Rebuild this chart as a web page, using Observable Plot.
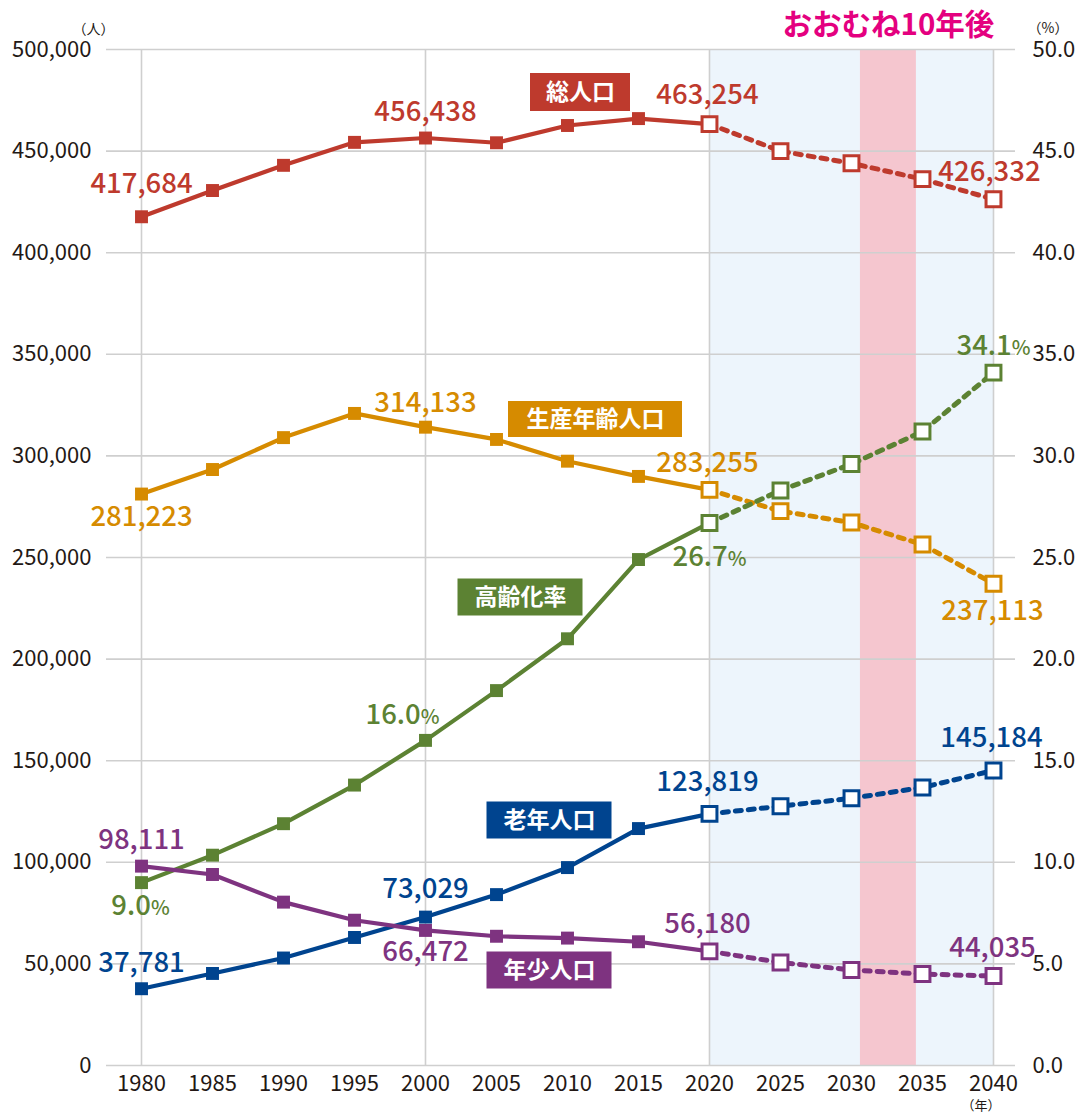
<!DOCTYPE html>
<html>
<head>
<meta charset="utf-8">
<script src="https://cdn.jsdelivr.net/npm/d3@7"></script>
<script src="https://cdn.jsdelivr.net/npm/@observablehq/plot@0.6"></script>
<style>
  html, body { margin: 0; padding: 0; background: #fff; }
  #chart svg { display: block; }
</style>
</head>
<body>
<div id="chart"></div>
<script>
// ---------------- data ----------------
const years = [1980, 1985, 1990, 1995, 2000, 2005, 2010, 2015, 2020, 2025, 2030, 2035, 2040];
const totalPop   = [417684, 430600, 443000, 454300, 456438, 454100, 462600, 466000, 463254, 450000, 444000, 436200, 426332];
const workingPop = [281223, 293300, 309000, 320900, 314133, 308100, 297400, 289900, 283255, 272800, 267200, 256400, 237113];
const agingRate  = [9.0, 10.35, 11.9, 13.8, 16.0, 18.45, 21.0, 24.9, 26.7, 28.3, 29.6, 31.2, 34.1];
const elderlyPop = [37781, 45300, 52900, 63000, 73029, 84100, 97400, 116600, 123819, 127600, 131500, 136800, 145184];
const youngPop   = [98111, 94000, 80400, 71500, 66472, 63600, 62700, 60900, 56180, 50700, 47000, 45000, 44035];

const seriesNames = ["総人口", "生産年齢人口", "高齢化率", "老年人口", "年少人口"];
const seriesColors = ["#BE3A2D", "#D68B00", "#5C8233", "#00448F", "#7E3380"];
const lastActualYear = 2020;
const projectionBand = [2020, 2040];
const tenYearBand = [2030.63, 2034.57];
const bandTitle = "おおむね10年後";
const leftTicks = d3.range(0, 500001, 50000);
const pctScale = 10000; // 50.0% <-> 500,000 on the shared y scale

// labelled values: [series, year, text]
const valueLabels = [
  ["総人口", 1980, "417,684"], ["総人口", 2000, "456,438"], ["総人口", 2020, "463,254"], ["総人口", 2040, "426,332"],
  ["生産年齢人口", 1980, "281,223"], ["生産年齢人口", 2000, "314,133"], ["生産年齢人口", 2020, "283,255"], ["生産年齢人口", 2040, "237,113"],
  ["高齢化率", 1980, "9.0%"], ["高齢化率", 2000, "16.0%"], ["高齢化率", 2020, "26.7%"], ["高齢化率", 2040, "34.1%"],
  ["老年人口", 1980, "37,781"], ["老年人口", 2000, "73,029"], ["老年人口", 2020, "123,819"], ["老年人口", 2040, "145,184"],
  ["年少人口", 1980, "98,111"], ["年少人口", 2000, "66,472"], ["年少人口", 2020, "56,180"], ["年少人口", 2040, "44,035"]
];

// ---------------- layout (pixels / annotation anchors) ----------------
const W = 1084, H = 1117;
const M = {top: 49, right: 69, bottom: 52, left: 106};
const xDomain = [1977.535, 2041.55];
const pxPerYear = (W - M.left - M.right) / (xDomain[1] - xDomain[0]);
const pxPerUnit = (H - M.top - M.bottom) / 500000;
// label offsets in px, in the same order as valueLabels
const labelOffsets = [
  [0, -33], [0, -26], [-2, -29], [-4, -27],
  [0, 23], [0, -24], [-2, -27], [-1, 28],
  [-1, 24], [-23, -25], [0, 34], [0, -26],
  [0, -26], [0, -28], [-2, -32], [-2, -32],
  [0, -26], [0, 22], [-2, -27], [-1, -28]
];
// series name boxes: centre (px) and size (px)
const nameBoxes = [
  ["総人口", 580, 92, 100, 38],
  ["生産年齢人口", 595, 419, 174, 36],
  ["高齢化率", 520, 597, 125, 37],
  ["老年人口", 549, 820, 125, 37],
  ["年少人口", 549, 970, 125, 37]
];
const FONT = "'Noto Sans CJK JP', 'Noto Sans', sans-serif";

// ---------------- build table ----------------
const seriesValues = {
  "総人口": totalPop,
  "生産年齢人口": workingPop,
  "高齢化率": agingRate.map(v => v * pctScale),
  "老年人口": elderlyPop,
  "年少人口": youngPop
};
const rows = [];
for (const s of seriesNames) {
  seriesValues[s].forEach((v, i) => rows.push({series: s, year: years[i], value: v}));
}
const actual = rows.filter(d => d.year <= lastActualYear);
const projected = rows.filter(d => d.year >= lastActualYear);
const actualMarks = rows.filter(d => d.year < lastActualYear);
const projMarks = rows.filter(d => d.year >= lastActualYear);
const colorOf = s => seriesColors[seriesNames.indexOf(s)];
const xInv = px => xDomain[0] + (px - M.left) / pxPerYear;
const yInv = py => (H - M.bottom - py) / pxPerUnit;

const labelMarks = valueLabels.map(([s, yr, txt], i) => {
  const d = rows.find(r => r.series === s && r.year === yr);
  return Plot.text([{...d, txt}], {
    x: "year", y: "value", text: "txt",
    dx: labelOffsets[i][0], dy: labelOffsets[i][1],
    fill: colorOf(s), fontSize: 27.5, fontWeight: 500,
    className: "vlabel"
  });
});

const boxes = nameBoxes.map(([s, cx, cy, w, h]) => ({
  series: s, x1: xInv(cx - w / 2), x2: xInv(cx + w / 2),
  y1: yInv(cy + h / 2), y2: yInv(cy - h / 2), xc: xInv(cx), yc: yInv(cy)
}));

const chart = Plot.plot({
  width: W, height: H,
  marginTop: M.top, marginRight: M.right, marginBottom: M.bottom, marginLeft: M.left,
  style: {fontFamily: FONT, background: "#fff", overflow: "visible"},
  x: {domain: xDomain},
  y: {domain: [0, 500000]},
  color: {domain: seriesNames, range: seriesColors},
  marks: [
    Plot.rectY([{a: projectionBand[0], b: projectionBand[1]}], {x1: "a", x2: "b", y1: 0, y2: 500000, fill: "#EDF5FC"}),
    Plot.rectY([{a: tenYearBand[0], b: tenYearBand[1]}], {x1: "a", x2: "b", y1: 0, y2: 500000, fill: "#F5C6CF"}),
    Plot.ruleY(leftTicks, {stroke: "#CFCFCF", strokeWidth: 1.6}),
    Plot.ruleX([1980, 2000, 2020, 2040], {y1: 0, y2: 500000, stroke: "#CFCFCF", strokeWidth: 1.6}),
    Plot.axisY({anchor: "left", ticks: leftTicks, tickFormat: d3.format(","), tickSize: 0, tickPadding: 15, fontSize: 22, fill: "#231815", label: null}),
    Plot.axisY({anchor: "right", ticks: leftTicks, tickFormat: d => (d / pctScale).toFixed(1), tickSize: 0, tickPadding: 17, fontSize: 22, fill: "#231815", label: null}),
    Plot.axisX({ticks: years, tickFormat: d => String(d), tickSize: 0, tickPadding: 10, fontSize: 22, fill: "#231815", label: null}),
    Plot.line(actual, {x: "year", y: "value", z: "series", stroke: "series", strokeWidth: 4.2}),
    Plot.line(projected, {x: "year", y: "value", z: "series", stroke: "series", strokeWidth: 5, strokeDasharray: "6,7"}),
    Plot.dot(actualMarks, {x: "year", y: "value", symbol: "square", r: 7.3, fill: "series", stroke: "none"}),
    Plot.dot(projMarks, {x: "year", y: "value", symbol: "square", r: 8.4, fill: "#fff", stroke: "series", strokeWidth: 3}),
    ...labelMarks,
    Plot.rect(boxes, {x1: "x1", x2: "x2", y1: "y1", y2: "y2", fill: "series"}),
    Plot.text(boxes, {x: "xc", y: "yc", text: "series", fill: "#fff", fontSize: 23, fontWeight: 700}),
    Plot.text([bandTitle], {x: (tenYearBand[0] + tenYearBand[1]) / 2, y: 500000, dy: -24, text: d => d, fill: "#E4007F", fontSize: 29.5, fontWeight: 700}),
    Plot.text(["（人）"], {frameAnchor: "top-left", dx: -34, dy: -25, text: d => d, fontSize: 14, fill: "#231815"}),
    Plot.text(["（%）"], {frameAnchor: "top-right", dx: 53, dy: -26, text: d => d, fontSize: 14, fill: "#231815"}),
    Plot.text(["（年）"], {frameAnchor: "bottom-right", dx: -15, dy: 44, text: d => d, fontSize: 13, fill: "#231815"})
  ]
});

// shrink the "%" sign in the value labels
chart.querySelectorAll("g.vlabel text, .vlabel text").forEach(t => {
  const s = t.textContent;
  if (s.endsWith("%")) {
    t.textContent = s.slice(0, -1);
    const ts = document.createElementNS("http://www.w3.org/2000/svg", "tspan");
    ts.setAttribute("font-size", "20");
    ts.textContent = "%";
    t.appendChild(ts);
  }
});

document.getElementById("chart").appendChild(chart);
</script>
</body>
</html>
